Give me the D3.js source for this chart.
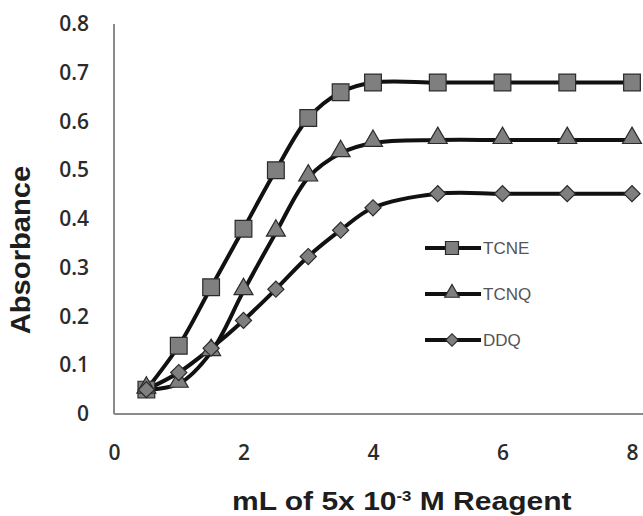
<!DOCTYPE html>
<html lang="en">
<head>
  <meta charset="UTF-8">
  <script src="https://cdn.jsdelivr.net/npm/d3@7"></script>
  <title>Absorbance vs reagent volume</title>
  <style>
    body { margin: 0; background: #fff; }
    svg { display: block; }
    .axis path { stroke: #8a8a8a; stroke-width: 2; }
    .axis text { font-family: "Open Sans", sans-serif; font-size: 21px; font-weight: 600; fill: #2b2b2b; }
    .line { fill: none; stroke: #111; stroke-width: 4; }
    .mark { fill: #7f7f7f; stroke: #2a2a2a; stroke-width: 1.2; }
    .title { font-family: "Liberation Sans", Arial, sans-serif; font-weight: bold; fill: #1e1e1e; }
    .legend text { font-family: "Liberation Sans", Arial, sans-serif; font-size: 17px; fill: #555; }
  </style>
</head>
<body>
<div id="chart"></div>
<script>
  // volumes (mL) and absorbance readings per reagent
  var volumes = [0.5, 1, 1.5, 2, 2.5, 3, 3.5, 4, 5, 6, 7, 8];
  var tcne = [0.05, 0.14, 0.26, 0.38, 0.50, 0.607, 0.66, 0.68, 0.68, 0.68, 0.68, 0.68];
  var tcnq = [0.05, 0.062, 0.127, 0.252, 0.372, 0.485, 0.535, 0.556, 0.562, 0.562, 0.562, 0.562];
  var ddq = [0.05, 0.085, 0.135, 0.192, 0.256, 0.323, 0.377, 0.423, 0.452, 0.452, 0.452, 0.452];
  var seriesNames = ["TCNE", "TCNQ", "DDQ"];
  var xTicks = [0, 2, 4, 6, 8];
  var yTicks = [0, 0.1, 0.2, 0.3, 0.4, 0.5, 0.6, 0.7, 0.8];

  var width = 643, height = 516;

  var svg = d3.select("#chart").append("svg")
    .attr("width", width)
    .attr("height", height);

  var x = d3.scaleLinear().domain([0, 8.17]).range([114, 643]);
  var y = d3.scaleLinear().domain([0, 0.8]).range([414, 24]);

  // axes
  svg.append("g")
    .attr("class", "axis")
    .attr("transform", "translate(0," + y(0) + ")")
    .call(d3.axisBottom(x).tickValues(xTicks).tickSize(0).tickPadding(31).tickFormat(d3.format("d")))
    .call(function(g) { g.select(".domain").attr("d", "M" + x(0) + ",0H" + width); });

  svg.append("g")
    .attr("class", "axis")
    .attr("transform", "translate(" + x(0) + ",0)")
    .call(d3.axisLeft(y).tickValues(yTicks).tickSize(0).tickPadding(25)
      .tickFormat(function(d) { return d === 0 ? "0" : d3.format(".1f")(d); }))
    .call(function(g) { g.select(".domain").attr("d", "M0," + y(0.8) + "V" + y(0)); });

  var data = [tcne, tcnq, ddq];
  // square, triangle, diamond (rotated square)
  var symbols = [d3.symbolSquare, d3.symbolTriangle, d3.symbolSquare];
  var sizes = [280, 155, 130];
  var rotate = [0, 0, 45];
  var nudge = [0, -2, 0];

  var line = d3.line()
    .x(function(d, i) { return x(volumes[i]); })
    .y(function(d) { return y(d); })
    .curve(d3.curveCatmullRom);

  // lines first, then markers on top
  data.forEach(function(vals) {
    svg.append("path").attr("class", "line").attr("d", line(vals));
  });

  data.forEach(function(vals, s) {
    svg.selectAll(".m" + s)
      .data(vals)
      .enter()
      .append("path")
      .attr("class", "mark m" + s)
      .attr("d", d3.symbol().type(symbols[s]).size(sizes[s]))
      .attr("transform", function(d, i) {
        return "translate(" + x(volumes[i]) + "," + (y(d) + nudge[s]) + ") rotate(" + rotate[s] + ")";
      });
  });

  // legend
  var legend = svg.append("g").attr("class", "legend");
  seriesNames.forEach(function(name, s) {
    var ly = 248 + s * 46;
    legend.append("line")
      .attr("x1", 425).attr("x2", 481).attr("y1", ly).attr("y2", ly)
      .attr("stroke", "#111").attr("stroke-width", 4);
    legend.append("path")
      .attr("class", "mark")
      .attr("d", d3.symbol().type(symbols[s]).size(sizes[s] * 0.6))
      .attr("transform", "translate(452," + (ly + nudge[s] / 2) + ") rotate(" + rotate[s] + ")");
    legend.append("text")
      .attr("x", 483).attr("y", ly + 6)
      .text(name);
  });

  // axis titles (the x title is drawn a bit wide, like the original)
  var xt = svg.append("text")
    .attr("class", "title")
    .attr("transform", "translate(232,510) scale(1.2,1)")
    .style("font-size", "25px");
  xt.append("tspan").text("mL of 5x 10");
  xt.append("tspan").attr("dy", -9).style("font-size", "14px").text("-3");
  xt.append("tspan").attr("dy", 9).text(" M Reagent");

  svg.append("text")
    .attr("class", "title")
    .attr("transform", "translate(30,250) rotate(-90) scale(1.08,1)")
    .style("text-anchor", "middle")
    .style("font-size", "27px")
    .text("Absorbance");
</script>
</body>
</html>
